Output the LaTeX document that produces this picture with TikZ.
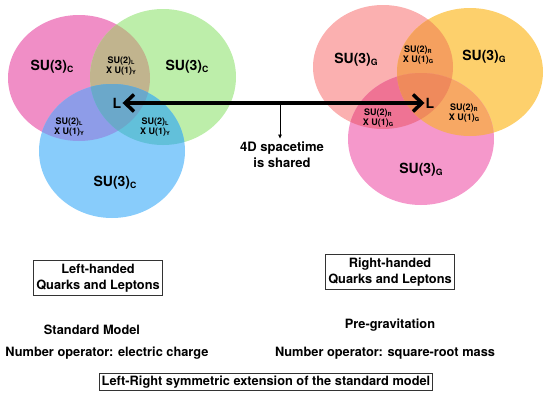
\documentclass[tikz,border=0pt]{standalone}
\usepackage{fontspec}
\usepackage{graphicx}
\setmainfont{TeX Gyre Heros}
\usetikzlibrary{arrows.meta}
\newcommand\sbt[1]{\raisebox{-0.25ex}{\scalebox{0.62}{#1}}}
\definecolor{cA}{HTML}{F08EC6}
\definecolor{cB}{HTML}{BDEEAA}
\definecolor{cC}{HTML}{88CCFB}
\definecolor{cAB}{HTML}{C1B48E}
\definecolor{cAC}{HTML}{8E9CE8}
\definecolor{cBC}{HTML}{62C0DA}
\definecolor{cABC}{HTML}{6BA8CA}
\definecolor{cD}{HTML}{FBB0B0}
\definecolor{cE}{HTML}{FDD06C}
\definecolor{cF}{HTML}{F598CB}
\definecolor{cDE}{HTML}{F5A05F}
\definecolor{cDF}{HTML}{EF7394}
\definecolor{cEF}{HTML}{F7A864}
\definecolor{cDEF}{HTML}{EF8A5C}
\tikzset{
  big/.style={font=\bfseries\fontsize{14}{15}\selectfont},
  small/.style={font=\bfseries\fontsize{9}{10.5}\selectfont, align=center},
  txt/.style={font=\bfseries\fontsize{12.8}{16}\selectfont, align=center},
  boxed/.style={txt, draw=black!80, line width=0.9pt, inner sep=3pt}
}
\begin{document}
\begin{tikzpicture}[x=1pt,y=-1pt]
\useasboundingbox (0,0) rectangle (550,399);
\def\eA{(79,78) ellipse [x radius=71, y radius=63]}
\def\eB{(163,77) ellipse [x radius=73, y radius=68]}
\def\eC{(112,151) ellipse [x radius=73, y radius=67]}
\def\eD{(383,67) ellipse [x radius=70, y radius=62]}
\def\eE{(470,72) ellipse [x radius=73, y radius=64]}
\def\eF{(421,139) ellipse [x radius=73, y radius=66]}
% left Venn
\fill[cA] \eA; \fill[cB] \eB; \fill[cC] \eC;
\begin{scope}\clip \eA; \fill[cAB] \eB; \fill[cAC] \eC; \end{scope}
\begin{scope}\clip \eB; \fill[cBC] \eC; \end{scope}
\begin{scope}\clip \eA; \clip \eB; \fill[cABC] \eC; \end{scope}
% right Venn
\fill[cD] \eD; \fill[cE] \eE; \fill[cF] \eF;
\begin{scope}\clip \eD; \fill[cDE] \eE; \fill[cDF] \eF; \end{scope}
\begin{scope}\clip \eE; \fill[cEF] \eF; \end{scope}
\begin{scope}\clip \eD; \clip \eE; \fill[cDEF] \eF; \end{scope}
% left labels
\node[big] (la) at (52,67) {SU(3)\sbt{C}};
\node[big] (lb) at (187,67) {SU(3)\sbt{C}};
\node[big] (lc) at (115,183) {SU(3)\sbt{C}};
\node[small] (lab) at (121,66) {SU(2)\sbt{L}\\X U(1)\sbt{Y}};
\node[small] (lac) at (69,127) {SU(2)\sbt{L}\\X U(1)\sbt{Y}};
\node[small] (lbc) at (155,127) {SU(2)\sbt{L}\\X U(1)\sbt{Y}};
\node[big, inner sep=1pt] (Lleft) at (117,103) {L};
% right labels
\node[big] (ra) at (356,60) {SU(3)\sbt{G}};
\node[big] (rb) at (484,57) {SU(3)\sbt{G}};
\node[big] (rc) at (421,170) {SU(3)\sbt{G}};
\node[small] (rab) at (418,55) {SU(2)\sbt{R}\\X U(1)\sbt{G}};
\node[small] (rac) at (378,118) {SU(2)\sbt{R}\\X U(1)\sbt{G}};
\node[small] (rbc) at (464,113) {SU(2)\sbt{R}\\X U(1)\sbt{G}};
\node[big, inner sep=1pt] (Lright) at (430,103) {L};
% arrows
\draw[line width=3.5pt, {Straight Barb[length=9pt,width=17pt]}-{Straight Barb[length=9pt,width=17pt]}] (Lleft.east) -- (Lright.west);
\coordinate (mid) at (280,103);
\node[txt, font=\bfseries\fontsize{13}{16}\selectfont] (shared) at (282,155) {4D spacetime\\is shared};
\draw[line width=0.8pt, -{Triangle[length=4pt,width=3.5pt]}] (mid) -- (mid |- shared.north);
% bottom texts
\node[boxed] (lh) at (98,278) {Left-handed\\Quarks and Leptons};
\node[boxed] (rh) at (390,272) {Right-handed\\Quarks and Leptons};
\node[txt] (sm) at (92,330) {Standard Model};
\node[txt] (nl) at (107,353) {Number operator: electric charge};
\node[txt] (pg) at (390,325) {Pre-gravitation};
\node[txt] (nr) at (385,353) {Number operator: square-root mass};
\node[boxed, inner sep=2pt] (lr) at (266,382) {Left-Right symmetric extension of the standard model};
\end{tikzpicture}
\end{document}
